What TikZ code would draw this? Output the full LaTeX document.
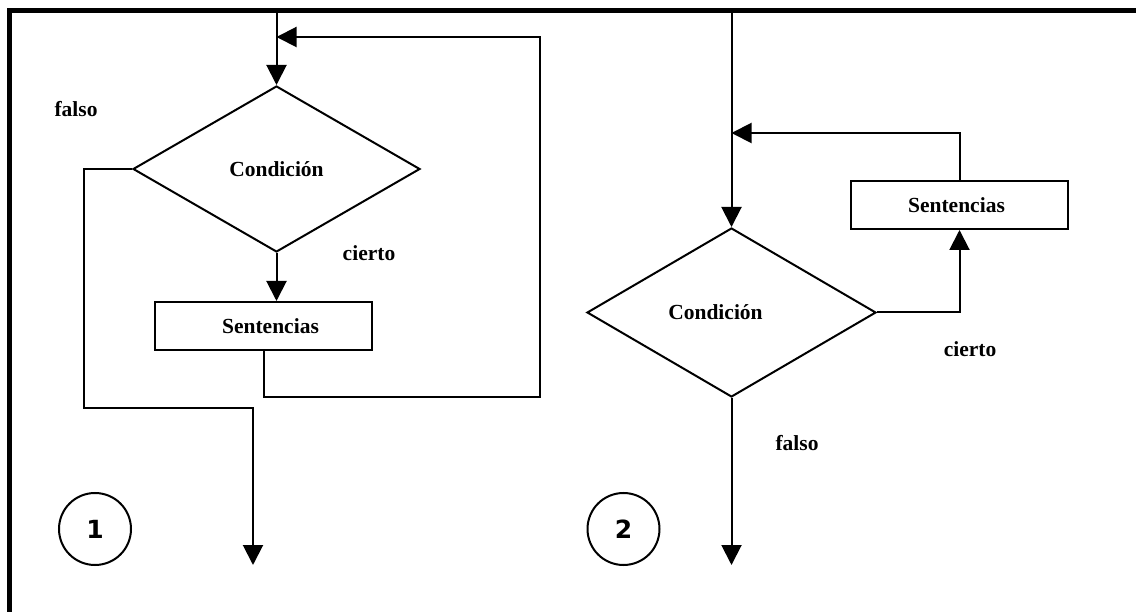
\documentclass[tikz,border=0pt]{standalone}
\usepackage{fontspec}
\setmainfont{Liberation Serif}
\newfontfamily\numfont{DejaVu Sans}
\usetikzlibrary{shapes.geometric,arrows.meta}
\begin{document}
\begin{tikzpicture}[x=1pt,y=-1pt,
  line width=2pt,
  arr/.style={-{Triangle[length=20pt,width=20pt]}},
  txt/.style={font=\fontsize{21.5}{24}\selectfont\bfseries},
  cond/.style={diamond,draw,inner sep=0pt,txt},
  stmt/.style={rectangle,draw,inner sep=0pt,minimum width=217pt,minimum height=48pt,txt},
  lbl/.style={inner sep=0pt,txt},
  num/.style={circle,draw,minimum size=72pt,inner sep=0pt,font=\numfont\bfseries\fontsize{25}{30}\selectfont}]
\useasboundingbox (0,0) rectangle (1136,612);
\clip (0,0) rectangle (1136,612);
% frame
\draw[line width=5pt] (9.7,640) -- (9.7,10.5) -- (1160,10.5);

% ---------- diagram 1 ----------
\node[cond,minimum width=287pt,minimum height=166pt] (d1) at (276.5,169) {Condición};
\node[stmt] (s1) at (263.5,326) {\hspace*{14pt}Sentencias};
\coordinate (t1) at (276.5,12);
\draw[arr] (t1) -- (d1.north);
\draw[arr] (d1.south) -- (d1.south |- s1.north);
\coordinate (r1b) at (540,397);
\coordinate (r1t) at (540,37);
\draw[arr] (s1.south) |- (r1b) -- (r1t) -- (r1t -| t1);
\coordinate (f1a) at (84,408);
\coordinate (f1b) at (253,408);
\coordinate (e1) at (253,565);
\draw[arr] (d1.west) -| (f1a) -- (f1b) -- (e1);
\node[num] (n1) at (95,529) {1};
\node[lbl] (falso1) at (76,109) {falso};
\node[lbl] (cierto1) at (369,253) {cierto};

% ---------- diagram 2 ----------
\node[cond,minimum width=289pt,minimum height=169pt] (d2) at (731.5,312.5) {Condición\hspace*{32pt}};
\node[stmt] (s2) at (959.5,205) {Sentencias\hspace*{6pt}};
\coordinate (t2) at (731.5,12);
\draw[arr] (t2) -- (d2.north);
\coordinate (r2t) at (959.5,133);
\draw[arr] (s2.north) -- (r2t) -- (r2t -| t2);
\draw[arr] (d2.east) -| (s2.south);
\coordinate (e2) at (731.5,565);
\draw[arr] (d2.south) -- (e2);
\node[num] (n2) at (623.5,529) {2};
\node[lbl] (cierto2) at (970,349) {cierto};
\node[lbl] (falso2) at (797,443) {falso};
\end{tikzpicture}
\end{document}
